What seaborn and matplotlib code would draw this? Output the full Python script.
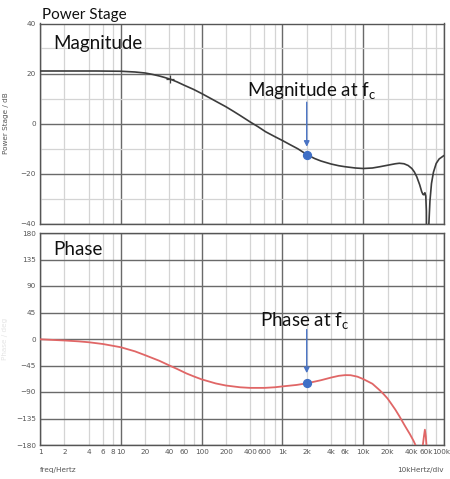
import numpy as np
import pandas as pd
import seaborn as sns
import matplotlib
matplotlib.use("Agg")
import matplotlib.pyplot as plt
from matplotlib.ticker import FixedLocator, FuncFormatter, NullFormatter

# ---------------- data ----------------
freq_mag = [1, 2, 5, 10, 15, 20, 25, 30, 35, 42, 50, 60, 80, 100, 130, 160,
            200, 250, 300, 400, 500, 620, 800, 1000, 1250, 1550, 2000, 2500,
            3000, 4000, 5000, 6000, 8000, 10000, 13000, 16000, 20000, 25000,
            28000, 32000, 36000, 40000, 43000, 46000, 50000, 53000, 55000,
            56500, 58000, 59500, 60500, 61500, 63000, 65000, 67000, 70000,
            74000, 80000, 87000, 100000]
mag_db = [21.0, 21.0, 21.0, 20.9, 20.6, 20.2, 19.6, 19.0, 18.4, 17.6, 16.6,
          15.4, 13.6, 12.0, 10.0, 8.4, 6.7, 4.8, 3.2, 0.6, -1.3, -3.3, -5.2,
          -6.8, -8.5, -10.1, -12.4, -14.0, -15.0, -16.2, -16.9, -17.3, -17.8,
          -18.0, -17.8, -17.3, -16.7, -16.1, -15.9, -16.1, -16.8, -18.0, -19.4,
          -21.3, -24.5, -27.3, -28.4, -28.5, -27.7, -29.0, -35.0, -80.0, -60.0,
          -40.0, -31.0, -24.0, -19.5, -16.0, -14.2, -12.8]

freq_ph = [1, 2, 3, 4, 6, 10, 15, 20, 30, 40, 50, 65, 80, 100, 150, 200, 300,
           400, 600, 800, 1000, 1500, 2000, 3000, 4000, 5000, 6000, 7000, 8500,
           10000, 13000, 16000, 18000, 20000, 22000, 25000, 28000, 33000,
           38000, 42000, 45000, 50000, 54500, 56500, 58000, 59500, 61000,
           70000, 100000]
phase_deg = [-0.5, -2.5, -4, -5.5, -8.5, -14, -21, -27.5, -37, -45, -51,
             -58.5, -63.5, -68.5, -75.5, -79, -82, -83, -83, -82, -80.5, -78,
             -75.3, -70, -65.5, -62.5, -61.3, -61.5, -64, -68, -76, -87, -94,
             -101, -109, -120, -131, -148, -162, -173, -182, -200, -182, -165,
             -154, -165, -185, -210, -220]

fc_hz = 2000
mag_at_fc = -12.4
phase_at_fc = -75.3
cross_hz = 41
cross_db = 17.6

x_label_text = {1: "1", 2: "2", 4: "4", 6: "6", 8: "8", 10: "10", 20: "20",
                40: "40", 60: "60", 100: "100", 200: "200", 400: "400",
                600: "600", 1000: "1k", 2000: "2k", 4000: "4k", 6000: "6k",
                10000: "10k", 20000: "20k", 40000: "40k", 60000: "60k"}
last_x_label = "100k"
mag_ticks = [-40, -20, 0, 20, 40]
mag_minor = [-30, -10, 10, 30]
phase_ticks = [-180, -135, -90, -45, 0, 45, 90, 135, 180]

# ---------------- figure ----------------
sns.set_theme(style="white")
plt.rcParams["font.family"] = ["DejaVu Sans"]

W, H = 450, 479
fig = plt.figure(figsize=(W / 100, H / 100), dpi=100)

def ax_rect(l, t, r, b):
    return [l / W, 1 - b / H, (r - l) / W, (b - t) / H]

ax1 = fig.add_axes(ax_rect(40, 23.5, 444, 223.5))
ax2 = fig.add_axes(ax_rect(40, 233, 444, 445))

mag_df = pd.DataFrame({"freq": freq_mag, "mag": mag_db})
ph_df = pd.DataFrame({"freq": freq_ph, "phase": phase_deg})

sns.lineplot(data=mag_df, x="freq", y="mag", ax=ax1, color="#3c3c3c",
             linewidth=1.2, zorder=3)
sns.lineplot(data=ph_df, x="freq", y="phase", ax=ax2, color="#e06666",
             linewidth=1.3, zorder=3)

major_x = [1, 10, 100, 1000, 10000, 100000]
minor_x = [m * d for d in [1, 10, 100, 1000, 10000] for m in (2, 4, 6, 8)]

tick_color = "#555555"
for ax in (ax1, ax2):
    ax.set_xscale("log")
    ax.set_xlim(1, 100000)
    ax.xaxis.set_major_locator(FixedLocator(major_x))
    ax.xaxis.set_minor_locator(FixedLocator(minor_x))
    ax.grid(True, which="major", axis="both", color="#6a6a6a", linewidth=1.0)
    ax.grid(True, which="minor", axis="both", color="#d4d4d4", linewidth=0.9)
    ax.set_axisbelow(True)
    for s in ax.spines.values():
        s.set_color("#555555")
        s.set_linewidth(1.0)
    ax.tick_params(which="both", length=0, labelsize=5.2,
                   labelcolor=tick_color, pad=3)
    ax.set_xlabel("")
    ax.set_ylabel("")

# magnitude axes
ax1.set_ylim(-40, 40)
ax1.yaxis.set_major_locator(FixedLocator(mag_ticks))
ax1.yaxis.set_minor_locator(FixedLocator(mag_minor))
ax1.xaxis.set_major_formatter(NullFormatter())
ax1.xaxis.set_minor_formatter(NullFormatter())
ax1.set_ylabel("Power Stage / dB", fontsize=5.2, color=tick_color, labelpad=8)

# phase axes
ax2.set_ylim(-180, 180)
ax2.yaxis.set_major_locator(FixedLocator(phase_ticks))
ax2.yaxis.set_minor_locator(FixedLocator([]))
fmt = FuncFormatter(lambda v, p: x_label_text.get(int(round(v)), ""))
ax2.xaxis.set_major_formatter(fmt)
ax2.xaxis.set_minor_formatter(fmt)
ax2.set_ylabel("Phase / deg", fontsize=5.2, color="#e4e4e4", labelpad=6)
# last tick label, nudged left so it stays inside the figure
ax2.annotate(last_x_label, xy=(1, 0), xycoords="axes fraction",
             xytext=(-2.2, -3), textcoords="offset points", ha="center",
             va="top", fontsize=5.2, color=tick_color)

# points at fc and marker
ax1.scatter([fc_hz], [mag_at_fc], s=32, color="#3f6fc6", zorder=5)
ax2.scatter([fc_hz], [phase_at_fc], s=32, color="#3f6fc6", zorder=5)
ax1.scatter([cross_hz], [cross_db], s=30, marker="+", color="#3c3c3c",
            linewidths=0.9, zorder=5)

arrow_kw = dict(arrowstyle="-|>", color="#4a74c4", lw=1.0, mutation_scale=8,
                shrinkA=0, shrinkB=0)
ax1.annotate("", xy=(fc_hz, -9.3), xytext=(fc_hz, 8.5), arrowprops=arrow_kw,
             zorder=4)
ax2.annotate("", xy=(fc_hz, -58), xytext=(fc_hz, 16), arrowprops=arrow_kw,
             zorder=4)

# text
big = dict(family=["Lato", "DejaVu Sans"], color="#111111")
fig.text(42 / W, 1 - 19 / H, "Power Stage", fontsize=11, va="baseline", **big)
fig.text(53 / W, 1 - 49 / H, "Magnitude", fontsize=13.5, va="baseline", **big)
fig.text(53 / W, 1 - 255 / H, "Phase", fontsize=13.5, va="baseline", **big)
fig.text(247 / W, 1 - 97 / H, r"Magnitude at f$_\mathregular{c}$",
         fontsize=13.5, va="baseline", **big)
fig.text(260 / W, 1 - 327 / H, r"Phase at f$_\mathregular{c}$",
         fontsize=13.5, va="baseline", **big)

fig.text(40 / W, 1 - 472 / H, "freq/Hertz", fontsize=5.2, color=tick_color,
         va="baseline")
fig.text(444 / W, 1 - 472 / H, "10kHertz/div", fontsize=5.2, color=tick_color,
         va="baseline", ha="right")

fig.savefig("out.png", dpi=100)
